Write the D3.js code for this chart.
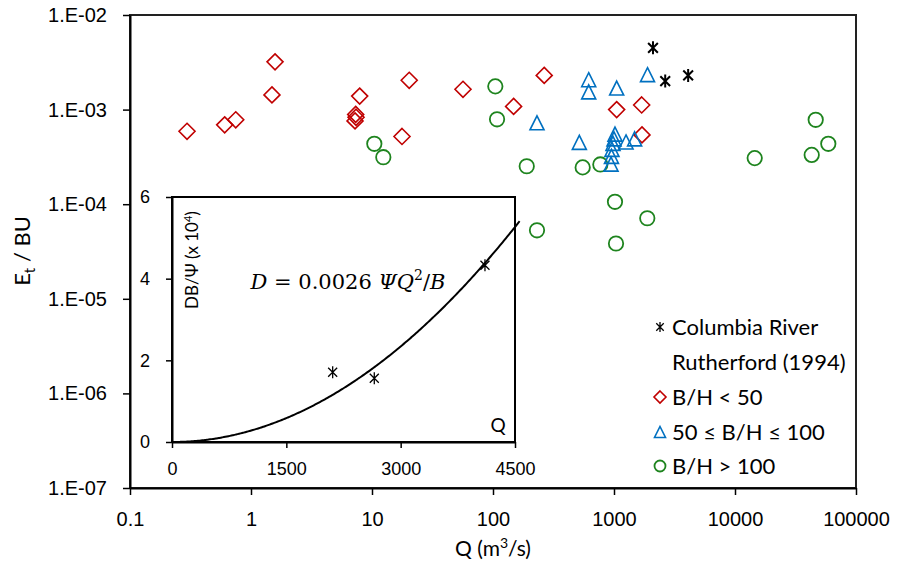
<!DOCTYPE html>
<html>
<head>
<meta charset="utf-8">
<script src="https://cdn.jsdelivr.net/npm/d3@7/dist/d3.min.js"></script>
<style>
  html, body { margin: 0; padding: 0; background: #fff; }
  svg { display: block; font-family: Lato, "Open Sans", sans-serif; }
</style>
</head>
<body>
<svg id="chart" width="898" height="569"></svg>
<script>
// Dispersion data: Q (m3/s) and Et/BU for each group
const columbiaQ = [2100, 2650, 4100];
const columbiaE = [4.5e-3, 2.0e-3, 2.3e-3];

const lowQ = [0.296, 0.606, 0.748, 1.49, 1.58, 7.91, 7.33, 7.38, 7.24, 20.3, 17.7, 56.5, 148, 265, 1052, 1693, 1703];
const lowE = [5.9e-4, 6.9e-4, 7.8e-4, 1.43e-3, 3.2e-3, 1.39e-3, 8.9e-4, 8.3e-4, 7.6e-4, 2.04e-3, 5.2e-4, 1.64e-3, 1.08e-3, 2.3e-3, 1.0e-3, 1.12e-3, 5.4e-4];

const midQ = [618, 618, 1052, 1892, 231, 517, 1019, 1000, 981, 962, 953, 945, 1257, 1480];
const midE = [2.07e-3, 1.54e-3, 1.69e-3, 2.34e-3, 7.25e-4, 4.5e-4, 5.5e-4, 4.9e-4, 4.4e-4, 3.8e-4, 3.2e-4, 2.65e-4, 4.55e-4, 4.9e-4];

const highQ = [104.5, 108, 10.45, 12.4, 190, 551, 771, 1019, 1884, 231, 1039, 46450, 59020, 43050, 14550];
const highE = [1.76e-3, 7.9e-4, 4.35e-4, 3.14e-4, 2.52e-4, 2.45e-4, 2.63e-4, 1.06e-4, 7.1e-5, 5.3e-5, 3.84e-5, 7.8e-4, 4.35e-4, 3.32e-4, 3.07e-4];

// Main axes ticks
const xTicks = [0.1, 1, 10, 100, 1000, 10000, 100000];
const xTickLabels = ["0.1", "1", "10", "100", "1000", "10000", "100000"];
const yTicks = [1e-7, 1e-6, 1e-5, 1e-4, 1e-3, 1e-2];
const yTickLabels = ["1.E-07", "1.E-06", "1.E-05", "1.E-04", "1.E-03", "1.E-02"];

// Inset: Columbia River DB/Psi (x 10^4) versus Q
const insetQ = [2108, 2654, 4106];
const insetD = [1.71, 1.56, 4.33];
const insetXTicks = [0, 1500, 3000, 4500];
const insetYTicks = [0, 2, 4, 6];
const fitCoef = 0.0026;

const legendLabels = ["Columbia River", "Rutherford (1994)", "B/H < 50", "50 \u2264 B/H \u2264 100", "B/H > 100"];

const RED = "#C00000", BLUE = "#0070C0", GREEN = "#1E841E";

const svg = d3.select("#chart");

const L = 130, R = 856, T = 15, B = 488;
const x = d3.scaleLog().domain([0.1, 1e5]).range([L, R]);
const y = d3.scaleLog().domain([1e-7, 1e-2]).range([B, T]);

// plot frame
svg.append("rect").attr("x", L).attr("y", T).attr("width", R - L).attr("height", B - T)
  .attr("fill", "none").attr("stroke", "#222").attr("stroke-width", 2);

const xAxis = d3.axisBottom(x).tickValues(xTicks).tickFormat((d, i) => xTickLabels[i])
  .tickSizeInner(7).tickSizeOuter(0).tickPadding(17);
const gx = svg.append("g").attr("transform", `translate(0,${B})`).call(xAxis);
gx.select(".domain").attr("stroke", "#000").attr("stroke-width", 2);
gx.selectAll(".tick line").attr("stroke", "#000").attr("stroke-width", 1.5);
gx.selectAll(".tick text").attr("font-size", 20).attr("fill", "#000");

const yAxis = d3.axisLeft(y).tickValues(yTicks).tickFormat((d, i) => yTickLabels[i])
  .tickSizeInner(7).tickSizeOuter(0).tickPadding(16);
const gy = svg.append("g").attr("transform", `translate(${L},0)`).call(yAxis);
gy.select(".domain").attr("stroke", "#000").attr("stroke-width", 2);
gy.selectAll(".tick line").attr("stroke", "#000").attr("stroke-width", 1.5);
gy.selectAll(".tick text").attr("font-size", 20).attr("fill", "#000");

// axis titles
const yt = svg.append("text").attr("transform", "translate(30,251) rotate(-90)")
  .attr("text-anchor", "middle").attr("font-size", 22).attr("fill", "#000");
yt.append("tspan").text("E");
yt.append("tspan").attr("font-size", 15).attr("dy", 5).text("t");
yt.append("tspan").attr("dy", -5).text(" / BU");

const xt = svg.append("text").attr("x", 493).attr("y", 556)
  .attr("text-anchor", "middle").attr("font-size", 21).attr("fill", "#000");
xt.append("tspan").text("Q (m");
xt.append("tspan").attr("font-size", 14).attr("dy", -8).text("3");
xt.append("tspan").attr("dy", 8).text("/s)");

// marker shapes
function diamond(g, cx, cy, s) {
  g.append("path").attr("d", `M${cx},${cy - s}L${cx + s},${cy}L${cx},${cy + s}L${cx - s},${cy}Z`)
    .attr("fill", "none").attr("stroke", RED).attr("stroke-width", 1.6);
}
function triangle(g, cx, cy, s) {
  g.append("path").attr("d", `M${cx},${cy - s}L${cx + s},${cy + s}L${cx - s},${cy + s}Z`)
    .attr("fill", "none").attr("stroke", BLUE).attr("stroke-width", 1.6);
}
function circle(g, cx, cy, r) {
  g.append("circle").attr("cx", cx).attr("cy", cy).attr("r", r)
    .attr("fill", "none").attr("stroke", GREEN).attr("stroke-width", 1.8);
}
function star(g, cx, cy, s, w) {
  const d = s * 0.75;
  g.append("path")
    .attr("d", `M${cx - d},${cy - d}L${cx + d},${cy + d}M${cx - d},${cy + d}L${cx + d},${cy - d}M${cx},${cy - s}L${cx},${cy + s}`)
    .attr("fill", "none").attr("stroke", "#000").attr("stroke-width", w);
}

const pts = svg.append("g");
highQ.forEach((q, i) => circle(pts, x(q), y(highE[i]), 7.2));
lowQ.forEach((q, i) => diamond(pts, x(q), y(lowE[i]), 8));
midQ.forEach((q, i) => triangle(pts, x(q), y(midE[i]), 7));
columbiaQ.forEach((q, i) => star(pts, x(q), y(columbiaE[i]), 6.5, 2));

// inset panel
const iL = 172, iR = 515, iT = 197, iB = 442;
const ix = d3.scaleLinear().domain([0, 4500]).range([iL, iR]);
const iy = d3.scaleLinear().domain([0, 6]).range([iB, iT]);

svg.append("rect").attr("x", iL).attr("y", iT).attr("width", iR - iL).attr("height", iB - iT)
  .attr("fill", "#fff").attr("stroke", "#000").attr("stroke-width", 2);

const ixAxis = d3.axisBottom(ix).tickValues(insetXTicks).tickFormat(d3.format("d"))
  .tickSizeInner(6).tickSizeOuter(0).tickPadding(14);
const gix = svg.append("g").attr("transform", `translate(0,${iB})`).call(ixAxis);
gix.select(".domain").attr("stroke", "#000").attr("stroke-width", 2);
gix.selectAll(".tick line").attr("stroke", "#000").attr("stroke-width", 1.5);
gix.selectAll(".tick text").attr("font-size", 18).attr("fill", "#000");

const iyAxis = d3.axisLeft(iy).tickValues(insetYTicks).tickFormat(d3.format("d"))
  .tickSizeInner(6).tickSizeOuter(0).tickPadding(16);
const giy = svg.append("g").attr("transform", `translate(${iL},0)`).call(iyAxis);
giy.select(".domain").attr("stroke", "#000").attr("stroke-width", 2);
giy.selectAll(".tick line").attr("stroke", "#000").attr("stroke-width", 1.5);
giy.selectAll(".tick text").attr("font-size", 18).attr("fill", "#000");

// fitted curve DB/Psi = 0.0026 Q^2, expressed in units of 10^4
const curveQ = d3.range(0, 4561, 20);
const line = d3.line().x(q => ix(q)).y(q => iy(fitCoef * q * q / 1e4)).curve(d3.curveMonotoneX);
svg.append("path").datum(curveQ).attr("d", line)
  .attr("fill", "none").attr("stroke", "#000").attr("stroke-width", 2);

insetQ.forEach((q, i) => star(svg, ix(q), iy(insetD[i]), 6, 1.3));

// inset labels
const il = svg.append("text").attr("transform", "translate(198,260) rotate(-90)")
  .attr("text-anchor", "middle").attr("font-size", 17).attr("fill", "#000");
il.append("tspan").text("DB/\u03A8 (x 10");
il.append("tspan").attr("font-size", 11).attr("dy", -6).text("4");
il.append("tspan").attr("dy", 6).text(")");

svg.append("text").attr("x", 498).attr("y", 432).attr("text-anchor", "middle")
  .attr("font-size", 19).attr("fill", "#000").text("Q");

const eq = svg.append("text").attr("x", 348).attr("y", 289).attr("text-anchor", "middle")
  .attr("font-family", "'DejaVu Serif', 'Liberation Serif', serif").attr("font-size", 21).attr("fill", "#000");
eq.append("tspan").attr("font-style", "italic").text("D");
eq.append("tspan").text(" = 0.0026 ");
eq.append("tspan").attr("font-style", "italic").text("\u03A8Q");
eq.append("tspan").attr("font-size", 14).attr("dy", -9).text("2");
eq.append("tspan").attr("dy", 9).text("/");
eq.append("tspan").attr("font-style", "italic").text("B");

// legend
const lg = svg.append("g");
const lx = 660, ltx = 672;
const ly = [327, 362, 397, 432, 466];
star(lg, lx, ly[0], 5, 1.3);
diamond(lg, lx, ly[2], 6);
triangle(lg, lx, ly[3], 5.5);
circle(lg, lx, ly[4], 5.5);
legendLabels.forEach((t, i) => {
  lg.append("text").attr("x", ltx).attr("y", ly[i]).attr("dy", "0.35em")
    .attr("font-size", 22).attr("fill", "#000").text(t);
});
</script>
</body>
</html>
